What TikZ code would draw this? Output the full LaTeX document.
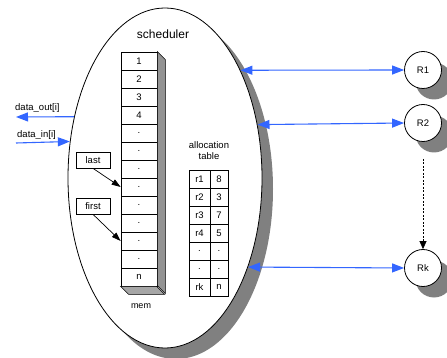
\documentclass[tikz,border=0pt]{standalone}
\usepackage{fontspec}
\setmainfont{Liberation Sans}
\usetikzlibrary{shapes.geometric,arrows.meta}
\definecolor{arrowblue}{RGB}{51,102,255}
\definecolor{shadowgray}{RGB}{128,128,128}
\begin{document}
\begin{tikzpicture}[x=1pt,y=-1pt,
  font=\fontsize{9.5}{11}\selectfont,
  cell/.style={draw, minimum width=36pt, minimum height=18pt, inner sep=0pt, line width=0.7pt, fill=white},
  lcell/.style={draw, minimum width=21pt, minimum height=18pt, inner sep=0pt, line width=0.7pt, fill=white},
  rcell/.style={draw, minimum width=18pt, minimum height=18pt, inner sep=0pt, line width=0.7pt, fill=white},
  ptrbox/.style={draw, minimum width=34pt, minimum height=16pt, inner sep=0pt, line width=0.7pt, fill=white},
  res/.style={circle, draw, minimum size=37pt, inner sep=0pt, fill=white, line width=0.8pt},
  blink/.style={draw=arrowblue, line width=1.1pt, {Triangle[length=12pt,width=9pt,fill=arrowblue]}-{Triangle[length=12pt,width=9pt,fill=arrowblue]}},
  bone/.style={draw=arrowblue, line width=1.1pt, -{Triangle[length=12pt,width=9pt,fill=arrowblue]}},
  ptr/.style={draw, line width=0.7pt, -{Triangle[length=9pt,width=6pt]}},
  shade/.style={fill=shadowgray}
]
\useasboundingbox (0,0) rectangle (447,358);

% shadows
\fill[shade] (176,189) ellipse [x radius=97pt, y radius=170pt];
\fill[shade] (434,81) circle [radius=18.5pt];
\fill[shade] (434,134) circle [radius=18.5pt];
\fill[shade] (434,279) circle [radius=18.5pt];

% scheduler ellipse
\node[draw, ellipse, minimum width=194pt, minimum height=340pt, inner sep=0pt, line width=0.8pt, fill=white] (sched) at (165,178) {};
\node[font=\fontsize{12}{14}\selectfont] (schedlbl) at (163,34) {scheduler};

% memory column
\foreach \i/\t in {1/1,2/2,3/3,4/4,5/.,6/.,7/.,8/.,9/.,10/.,11/.,12/.,13/n}
  \node[cell] (m\i) at (139,{43+18*\i}) {\t};
\filldraw[fill=gray!85, line width=0.6pt] (m1.north east) -- ++(8,8) -- ++(0,234) -- ++(-8,-8) -- cycle;
\filldraw[fill=gray!70, line width=0.6pt] (m13.south west) -- ++(8,8) -- ++(36,0) -- ++(-8,-8) -- cycle;
\node[font=\fontsize{9}{11}\selectfont] (memlbl) at (141,306) {mem};

% pointers
\node[ptrbox] (last) at (93,160) {last};
\node[ptrbox] (first) at (93,206) {first};
\draw[ptr] (last.south) -- (m8.west);
\draw[ptr] (first.south) -- (m11.west);

% allocation table
\node[align=center, font=\fontsize{9.5}{11}\selectfont] (alloclbl) at (209,151) {allocation\\table};
\foreach \i/\a/\b in {1/r1/8,2/r2/3,3/r3/7,4/r4/5,5/./.,6/./.,7/rk/n} {
  \node[lcell] (a\i) at (199.5,{161+18*\i}) {\a};
  \node[rcell] (b\i) at (219,{161+18*\i}) {\b};
}

% resources
\node[res] (R1) at (423,70) {R1};
\node[res] (R2) at (423,123) {R2};
\node[res] (Rk) at (423,268) {Rk};
\draw[blink] (sched.55.26) -- (R1.west);
\draw[blink] (sched.30.93) -- (R2.west);
\draw[blink] (sched.-47.55) -- (Rk.west);
\draw[line width=0.7pt, dash pattern=on 2pt off 1.5pt, -{Triangle[length=8pt,width=7pt]}] ([yshift=-17pt]R2.south) -- (Rk.north);

% data in/out
\coordinate (outend) at (16,117);
\coordinate (inbeg) at (16,143);
\draw[bone] (sched.146.02) -- (outend);
\draw[bone] (inbeg) -- (sched.159.75);
\node[anchor=west, inner sep=0pt] (doutlbl) at (15,108) {data\_out[i]};
\node[anchor=west, inner sep=0pt] (dinlbl) at (17,135) {data\_in[i]};
\end{tikzpicture}
\end{document}
